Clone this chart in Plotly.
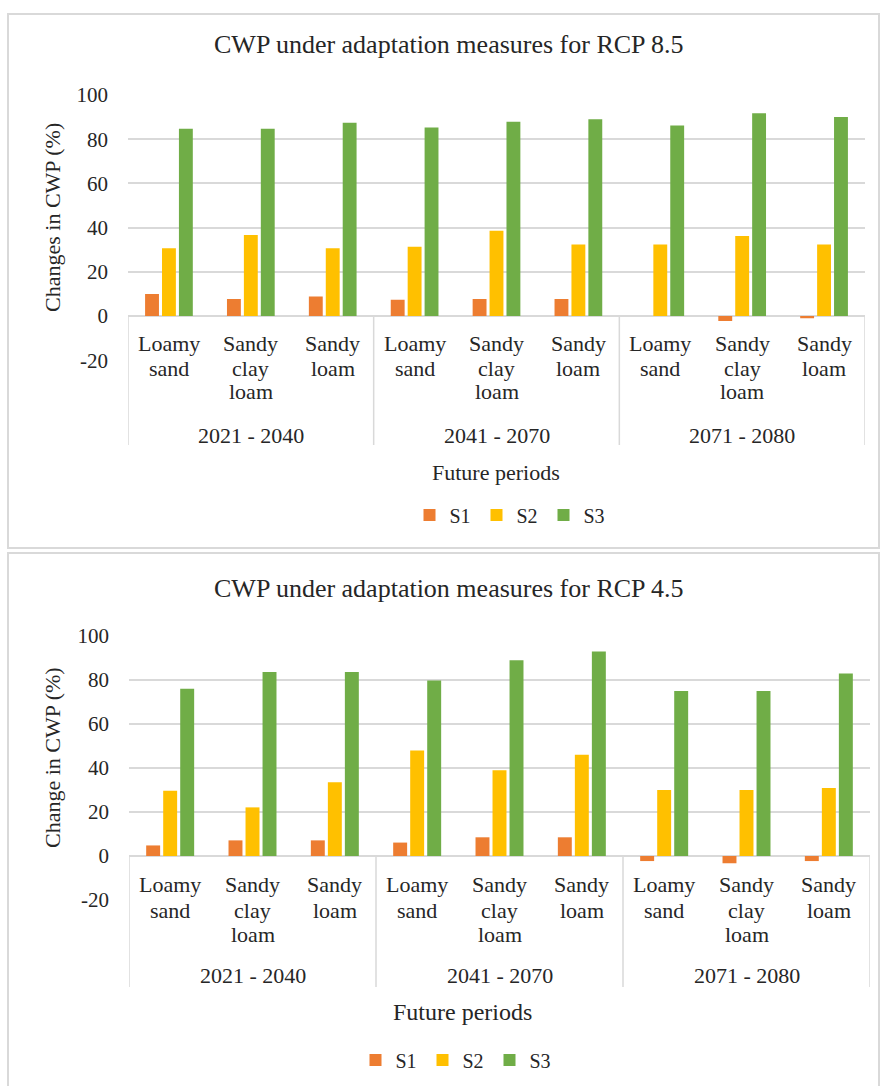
import plotly.graph_objects as go

# ---------------- data ----------------
periods = ["2021 - 2040", "2041 - 2070", "2071 - 2080"]
soils = ["Loamy<br>sand", "Sandy<br>clay<br>loam", "Sandy<br>loam"]
series = ["S1", "S2", "S3"]
series_colors = ["#ED7D31", "#FFC000", "#70AD47"]

rcp85_s1 = [10.0, 7.7, 8.8, 7.3, 7.7, 7.7, 0.0, -2.3, -1.0]
rcp85_s2 = [30.7, 36.6, 30.7, 31.3, 38.6, 32.4, 32.4, 36.2, 32.4]
rcp85_s3 = [84.7, 84.7, 87.4, 85.3, 87.9, 89.0, 86.2, 91.7, 90.0]

rcp45_s1 = [4.8, 7.1, 7.1, 6.1, 8.5, 8.5, -2.3, -3.3, -2.3]
rcp45_s2 = [29.7, 22.1, 33.5, 48.0, 39.0, 46.0, 30.0, 30.0, 30.9]
rcp45_s3 = [76.0, 83.6, 83.6, 79.8, 89.0, 93.0, 75.0, 75.0, 83.0]

titles = ["CWP under adaptation measures for RCP 8.5",
          "CWP under adaptation measures for RCP 4.5"]
ytitles = ["Changes in CWP (%)", "Change in CWP (%)"]
xtitle = "Future periods"
y_ticks = [-20, 0, 20, 40, 60, 80, 100]
y_ticktext = [str(v) for v in y_ticks]

# ---------------- layout helpers ----------------
W, H = 883, 1086
FONT = "Liberation Serif, Times New Roman, serif"
TXT = "#262626"
GRID = "#d9d9d9"


def px_y(v):
    return (H - v) / H


def px_x(v):
    return v / W


cats = [p + "|" + s for p in periods for s in soils]

panels = [
    dict(data=[rcp85_s1, rcp85_s2, rcp85_s3], xl=128, xr=865, y100=95, y0=316,
         box_top=14, box_bot=548, title_y=45, ytitle_y=218,
         line_off=[27, 53, 76], per_off=119, sep_len=129, lab_fs=22,
         xtitle_x=496, xtitle_y=472, xtitle_fs=22, leg_x=510, leg_y=515),
    dict(data=[rcp45_s1, rcp45_s2, rcp45_s3], xl=129, xr=870, y100=636, y0=856,
         box_top=553, box_bot=1095, title_y=588, ytitle_y=758,
         line_off=[28, 54, 78], per_off=119, sep_len=131, lab_fs=22,
         xtitle_x=462, xtitle_y=1012, xtitle_fs=24, leg_x=456, leg_y=1060),
]

fig = go.Figure()
annotations = []
shapes = []
layout_axes = {}

for i, pan in enumerate(panels):
    sfx = "" if i == 0 else str(i + 1)
    xa, ya = "x" + sfx, "y" + sfx
    leg = "legend" if i == 0 else "legend2"
    ym20 = pan["y0"] + (pan["y0"] - pan["y100"]) / 5.0

    for k, name in enumerate(series):
        fig.add_trace(go.Bar(
            x=cats, y=pan["data"][k], name=name,
            marker=dict(color=series_colors[k], line=dict(width=0)),
            xaxis=xa, yaxis=ya, legend=leg, hoverinfo="y+name",
        ))

    layout_axes["xaxis" + sfx] = dict(
        domain=[px_x(pan["xl"]), px_x(pan["xr"])], anchor=ya,
        type="category", categoryorder="array", categoryarray=cats,
        showticklabels=False, showgrid=False, zeroline=False, showline=False,
        ticks="", range=[-0.5, len(cats) - 0.5], fixedrange=True,
        automargin=False,
    )
    layout_axes["yaxis" + sfx] = dict(
        domain=[px_y(ym20), px_y(pan["y100"])], anchor=xa,
        range=[-20, 100], tickvals=y_ticks, ticktext=y_ticktext,
        showgrid=True, gridcolor=GRID,
        gridwidth=1.5, zeroline=True, zerolinecolor=GRID, zerolinewidth=1.5,
        showline=False, ticks="", ticklabelstandoff=19,
        tickfont=dict(family=FONT, size=21, color=TXT), fixedrange=True,
        automargin=False,
    )

    # panel border
    shapes.append(dict(type="rect", xref="paper", yref="paper",
                       x0=px_x(8), x1=px_x(879), y0=px_y(pan["box_bot"]),
                       y1=px_y(pan["box_top"]),
                       line=dict(color=GRID, width=2), layer="below"))

    # category box separators
    for b in range(len(periods) + 1):
        xpos = b * len(soils) - 0.5
        shapes.append(dict(type="line", xref=xa, yref="paper",
                           x0=xpos, x1=xpos, y0=px_y(pan["y0"]),
                           y1=px_y(pan["y0"] + pan["sep_len"]),
                           line=dict(color=GRID, width=1.5)))

    # soil labels (line by line, Excel spacing)
    for c, cat in enumerate(cats):
        soil = soils[c % len(soils)]
        for j, word in enumerate(soil.split("<br>")):
            annotations.append(dict(
                x=cat, xref=xa, y=px_y(pan["y0"] + pan["line_off"][j]),
                yref="paper", text=word, showarrow=False, xanchor="center",
                yanchor="middle",
                font=dict(family=FONT, size=pan["lab_fs"], color=TXT)))
    # period labels
    for p_i, p in enumerate(periods):
        annotations.append(dict(
            x=cats[p_i * len(soils) + 1], xref=xa,
            y=px_y(pan["y0"] + pan["per_off"]),
            yref="paper", text=p, showarrow=False, xanchor="center",
            yanchor="middle",
            font=dict(family=FONT, size=pan["lab_fs"], color=TXT)))

    # title
    annotations.append(dict(
        x=px_x(449), y=px_y(pan["title_y"]), xref="paper", yref="paper",
        text=titles[i], showarrow=False, xanchor="center", yanchor="middle",
        font=dict(family=FONT, size=26, color=TXT)))
    # y title
    annotations.append(dict(
        x=px_x(52), y=px_y(pan["ytitle_y"]), xref="paper", yref="paper",
        text=ytitles[i], showarrow=False, textangle=-90, xanchor="center",
        yanchor="middle", font=dict(family=FONT, size=22, color=TXT)))
    # x title
    annotations.append(dict(
        x=px_x(pan["xtitle_x"]), y=px_y(pan["xtitle_y"]), xref="paper",
        yref="paper", text=xtitle, showarrow=False, xanchor="center",
        yanchor="middle",
        font=dict(family=FONT, size=pan["xtitle_fs"], color=TXT)))

    layout_axes[leg] = dict(
        orientation="h", x=px_x(pan["leg_x"]), xanchor="center",
        y=px_y(pan["leg_y"]), yanchor="middle",
        font=dict(family=FONT, size=20, color=TXT),
        itemwidth=30, entrywidth=22, entrywidthmode="pixels",
        bgcolor="rgba(0,0,0,0)", traceorder="normal",
    )

fig.update_layout(
    width=W, height=H,
    margin=dict(l=0, r=0, t=0, b=0, pad=0, autoexpand=False),
    paper_bgcolor="white", plot_bgcolor="white",
    barmode="group", bargap=0.38, bargroupgap=0.18,
    showlegend=True, annotations=annotations, shapes=shapes,
    font=dict(family=FONT, color=TXT),
    **layout_axes,
)

fig.write_html(
    "out.html",
    config={"displayModeBar": False},
    post_script=(
        "var d=document.getElementById('{plot_id}');"
        "d.style.position='fixed';d.style.top='0px';d.style.left='0px';"
        "document.body.style.margin='0';"
        "document.body.style.overflow='hidden';"
        "document.documentElement.style.overflow='hidden';"
    ),
)
